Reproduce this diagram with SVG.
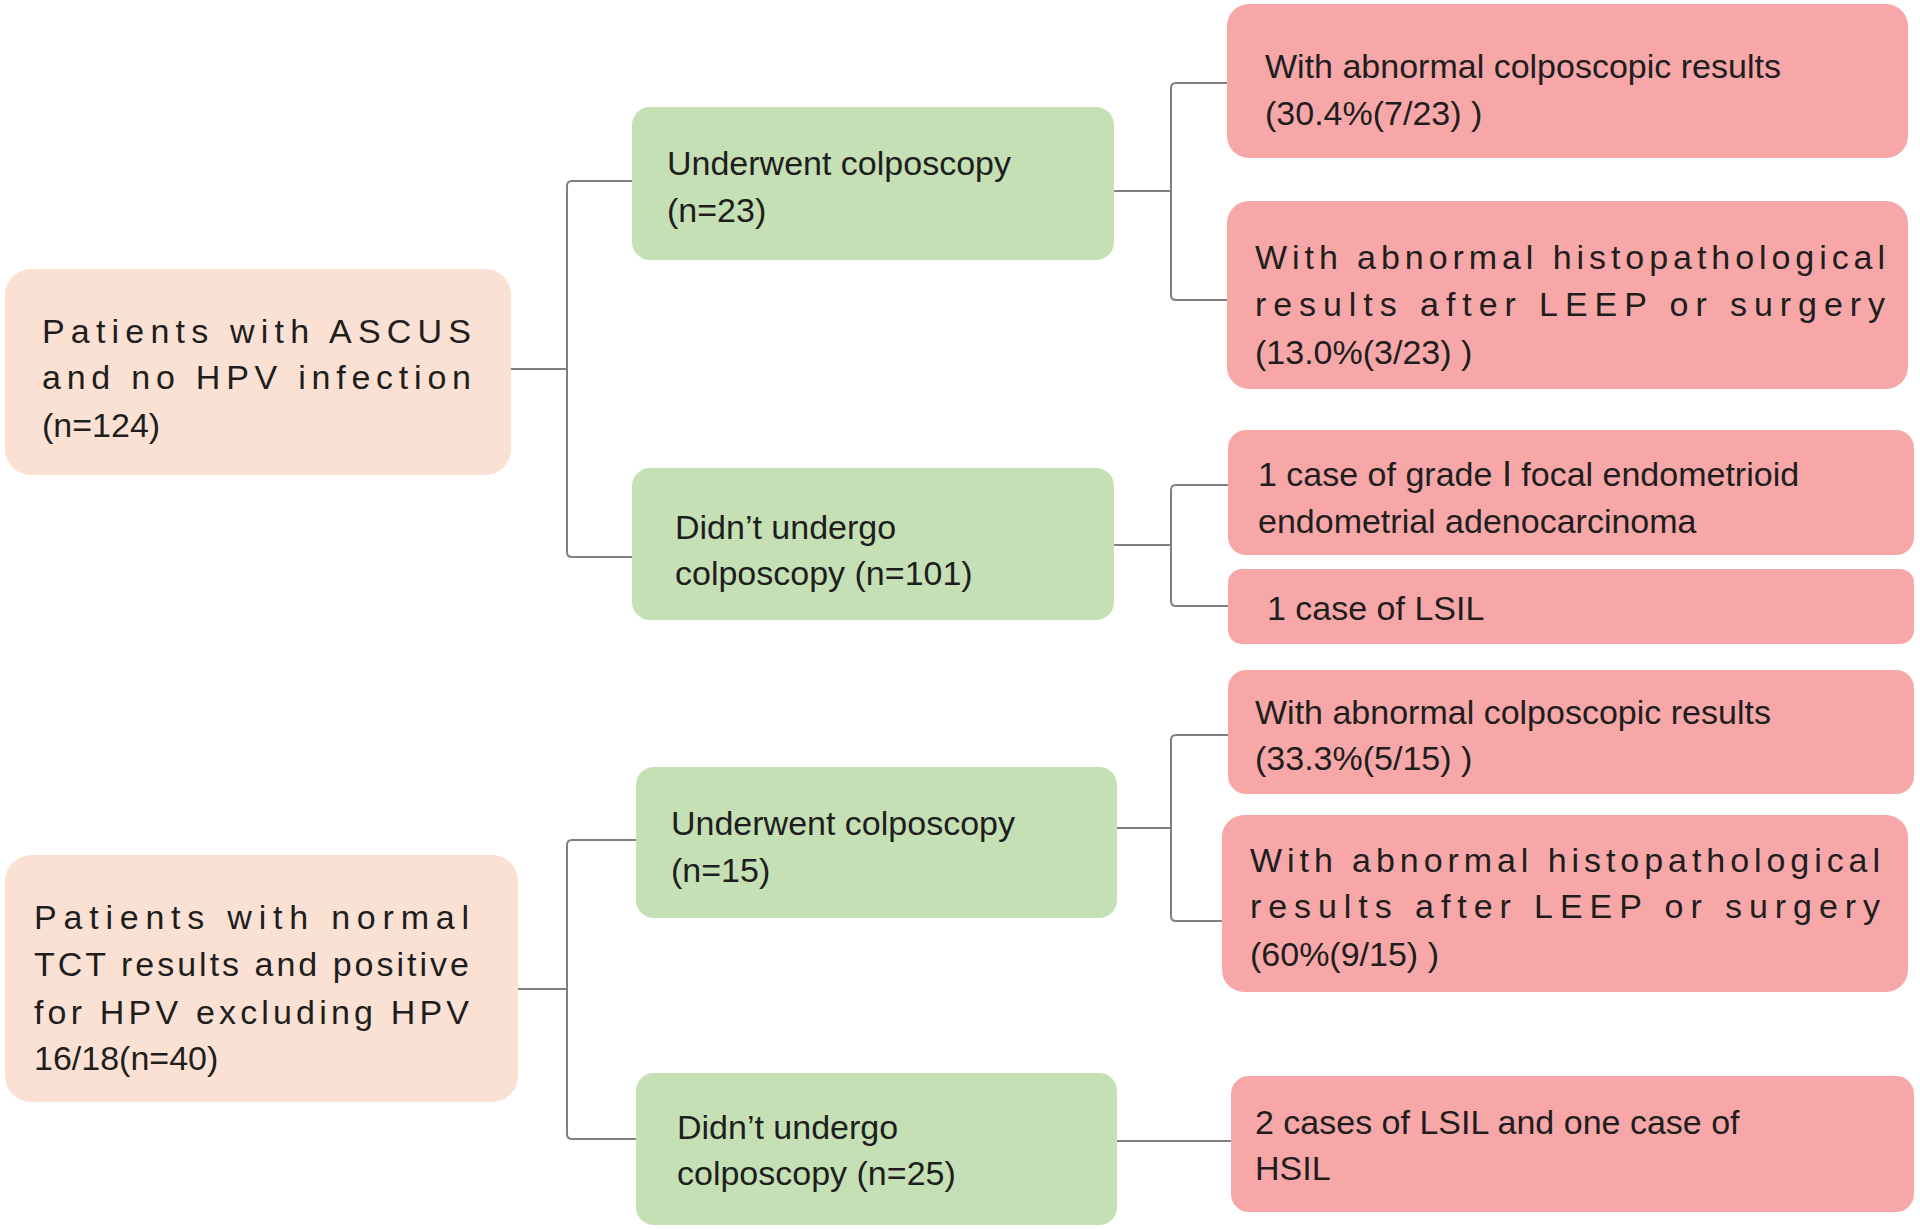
<svg xmlns="http://www.w3.org/2000/svg" width="1920" height="1229" viewBox="0 0 1920 1229">
<style>
text{font-family:"Liberation Sans",Arial,sans-serif;font-size:34px;fill:#1e1e1e}
.p{fill:#fbe1d3}.g{fill:#c5e0b4}.r{fill:#f7a7a8}
.c{fill:none;stroke:#808080;stroke-width:2}
</style>
<rect width="1920" height="1229" fill="#fff"/>
<g id="connectors">
<path class="c" d="M511,369H567M632,181H572Q567,181 567,186V552Q567,557 572,557H632"/>
<path class="c" d="M1114,191H1171M1227,83H1176Q1171,83 1171,88V295Q1171,300 1176,300H1227"/>
<path class="c" d="M1114,545H1171M1228,485H1176Q1171,485 1171,490V601Q1171,606 1176,606H1228"/>
<path class="c" d="M518,989H567M636,840H572Q567,840 567,845V1134Q567,1139 572,1139H636"/>
<path class="c" d="M1117,828H1171M1228,735H1176Q1171,735 1171,740V916Q1171,921 1176,921H1222"/>
<path class="c" d="M1117,1141H1231"/>
</g>
<g id="a1"><rect class="p" x="5" y="269" width="506" height="206" rx="26"/>
<text x="42" y="343" textLength="429" lengthAdjust="spacing">Patients with ASCUS</text>
<text x="42" y="389" textLength="429" lengthAdjust="spacing">and no HPV infection</text>
<text x="42" y="437">(n=124)</text></g>
<g id="a2"><rect class="p" x="5" y="855" width="513" height="247" rx="26"/>
<text x="34" y="929" textLength="435" lengthAdjust="spacing">Patients with normal</text>
<text x="34" y="976" textLength="435" lengthAdjust="spacing">TCT results and positive</text>
<text x="34" y="1024" textLength="435" lengthAdjust="spacing">for HPV excluding HPV</text>
<text x="34" y="1070">16/18(n=40)</text></g>
<g id="g1"><rect class="g" x="632" y="107" width="482" height="153" rx="18"/>
<text x="667" y="175">Underwent  colposcopy</text><text x="667" y="222">(n=23)</text></g>
<g id="g2"><rect class="g" x="632" y="468" width="482" height="152" rx="18"/>
<text x="675" y="539">Didn’t undergo</text><text x="675" y="585">colposcopy (n=101)</text></g>
<g id="g3"><rect class="g" x="636" y="767" width="481" height="151" rx="18"/>
<text x="671" y="835">Underwent  colposcopy</text><text x="671" y="882">(n=15)</text></g>
<g id="g4"><rect class="g" x="636" y="1073" width="481" height="152" rx="18"/>
<text x="677" y="1139">Didn’t undergo</text><text x="677" y="1185">colposcopy (n=25)</text></g>
<g id="r1"><rect class="r" x="1227" y="4" width="681" height="154" rx="22"/>
<text x="1265" y="78">With abnormal  colposcopic results</text><text x="1265" y="125">(30.4%(7/23) )</text></g>
<g id="r2"><rect class="r" x="1227" y="201" width="681" height="188" rx="22"/>
<text x="1255" y="269" textLength="630" lengthAdjust="spacing">With abnormal histopathological</text>
<text x="1255" y="316" textLength="630" lengthAdjust="spacing">results after LEEP or surgery</text>
<text x="1255" y="364">(13.0%(3/23) )</text></g>
<g id="r3"><rect class="r" x="1228" y="430" width="686" height="125" rx="18"/>
<text x="1258" y="486">1 case of grade Ⅰ focal endometrioid</text><text x="1258" y="533">endometrial  adenocarcinoma</text></g>
<g id="r4"><rect class="r" x="1228" y="569" width="686" height="75" rx="14"/>
<text x="1267" y="620">1 case of LSIL</text></g>
<g id="r5"><rect class="r" x="1228" y="670" width="686" height="124" rx="18"/>
<text x="1255" y="724">With abnormal  colposcopic results</text><text x="1255" y="770">(33.3%(5/15) )</text></g>
<g id="r6"><rect class="r" x="1222" y="815" width="686" height="177" rx="22"/>
<text x="1250" y="872" textLength="630" lengthAdjust="spacing">With abnormal histopathological</text>
<text x="1250" y="918" textLength="630" lengthAdjust="spacing">results after LEEP or surgery</text>
<text x="1250" y="966">(60%(9/15) )</text></g>
<g id="r7"><rect class="r" x="1231" y="1076" width="683" height="136" rx="18"/>
<text x="1255" y="1134">2 cases of LSIL and one case of</text><text x="1255" y="1180">HSIL</text></g>
</svg>
